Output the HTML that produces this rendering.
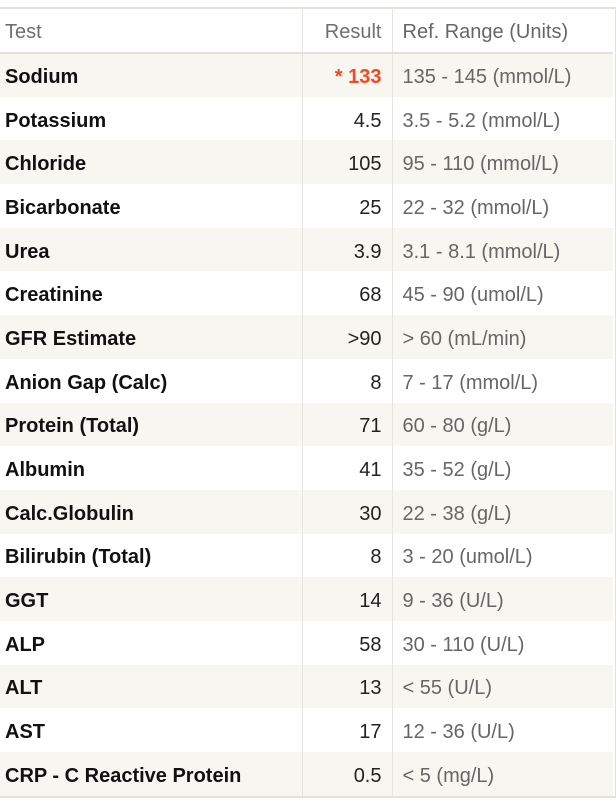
<!DOCTYPE html>
<html><head><meta charset="utf-8"><style>
body{margin:0;width:616px;height:809px;background:#fff;font-family:"Liberation Sans",Arial,sans-serif;overflow:hidden;position:relative}
#wrap{position:absolute;left:0;top:7px;width:615px;border-top:2px solid #e2e2dc;border-bottom:2px solid #e2e2dc;border-right:2px solid #e2e2dc}
table{border-collapse:collapse;width:613px;table-layout:fixed}
td,th{height:43.7px;padding:0;padding-top:4px;font-size:20px;line-height:1;white-space:nowrap;box-sizing:border-box}
th{height:44px;font-weight:normal;color:#6f6f6f;border-bottom:2px solid #e2e2dc;text-align:left;font-size:20px;padding-top:3px}
tr:nth-child(even) td{background:#f7f6f0}
.c1{padding-left:5px;border-right:1px solid #e6e6e0}
.c2{text-align:right;padding-right:10px;border-right:1px solid #e6e6e0}
.c3{padding-left:10px;color:#666}
td.c1{font-weight:bold;color:#111}
td.c2{color:#222}
th.c2{text-align:right}
td.hi{color:#f04a25;font-weight:bold}
</style></head><body>
<div id="wrap">
<table>
<colgroup><col style="width:302px"><col style="width:90px"><col></colgroup>
<tr><th class="c1">Test</th><th class="c2">Result</th><th class="c3">Ref. Range (Units)</th></tr>
<tr><td class="c1">Sodium</td><td class="c2 hi">* 133</td><td class="c3">135 - 145 (mmol/L)</td></tr>
<tr><td class="c1">Potassium</td><td class="c2">4.5</td><td class="c3">3.5 - 5.2 (mmol/L)</td></tr>
<tr><td class="c1">Chloride</td><td class="c2">105</td><td class="c3">95 - 110 (mmol/L)</td></tr>
<tr><td class="c1">Bicarbonate</td><td class="c2">25</td><td class="c3">22 - 32 (mmol/L)</td></tr>
<tr><td class="c1">Urea</td><td class="c2">3.9</td><td class="c3">3.1 - 8.1 (mmol/L)</td></tr>
<tr><td class="c1">Creatinine</td><td class="c2">68</td><td class="c3">45 - 90 (umol/L)</td></tr>
<tr><td class="c1">GFR Estimate</td><td class="c2">&gt;90</td><td class="c3">&gt; 60 (mL/min)</td></tr>
<tr><td class="c1">Anion Gap (Calc)</td><td class="c2">8</td><td class="c3">7 - 17 (mmol/L)</td></tr>
<tr><td class="c1">Protein (Total)</td><td class="c2">71</td><td class="c3">60 - 80 (g/L)</td></tr>
<tr><td class="c1">Albumin</td><td class="c2">41</td><td class="c3">35 - 52 (g/L)</td></tr>
<tr><td class="c1">Calc.Globulin</td><td class="c2">30</td><td class="c3">22 - 38 (g/L)</td></tr>
<tr><td class="c1">Bilirubin (Total)</td><td class="c2">8</td><td class="c3">3 - 20 (umol/L)</td></tr>
<tr><td class="c1">GGT</td><td class="c2">14</td><td class="c3">9 - 36 (U/L)</td></tr>
<tr><td class="c1">ALP</td><td class="c2">58</td><td class="c3">30 - 110 (U/L)</td></tr>
<tr><td class="c1">ALT</td><td class="c2">13</td><td class="c3">&lt; 55 (U/L)</td></tr>
<tr><td class="c1">AST</td><td class="c2">17</td><td class="c3">12 - 36 (U/L)</td></tr>
<tr><td class="c1">CRP - C Reactive Protein</td><td class="c2">0.5</td><td class="c3">&lt; 5 (mg/L)</td></tr>
</table></div>
</body></html>
